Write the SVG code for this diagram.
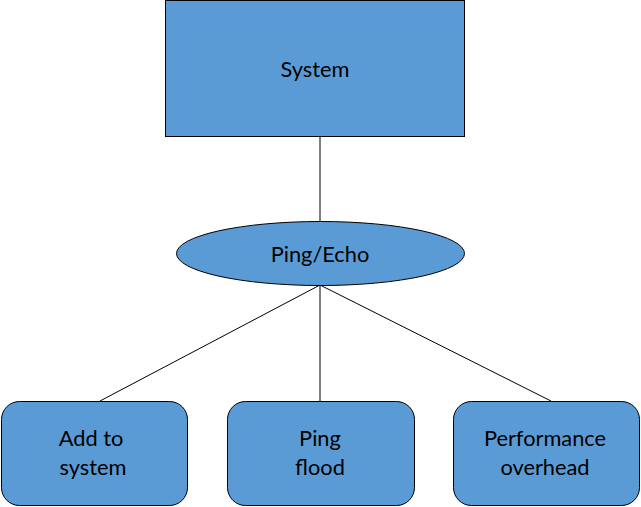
<svg xmlns="http://www.w3.org/2000/svg" width="641" height="507" viewBox="0 0 641 507">
<style>
.n{fill:#5B9BD5;stroke:#000;stroke-width:1}
.t{font-family:Lato,"Open Sans","Liberation Sans",sans-serif;font-size:21.8px;fill:#000;text-anchor:middle}
.c{stroke:#000;stroke-width:1;fill:none}
</style>
<rect width="641" height="507" fill="#fff"/>
<g id="connectors">
<line class="c" x1="320" y1="137" x2="320" y2="221"/>
<line class="c" x1="320" y1="285" x2="100" y2="401"/>
<line class="c" x1="320" y1="285" x2="320" y2="401"/>
<line class="c" x1="320" y1="285" x2="551" y2="401"/>
</g>
<g id="system">
<rect class="n" x="165.5" y="0.5" width="299" height="136"/>
<text class="t" x="315" y="77">System</text>
</g>
<g id="pingecho">
<ellipse class="n" cx="320.5" cy="253.5" rx="144" ry="32"/>
<text class="t" x="320" y="262">Ping/Echo</text>
</g>
<g id="add">
<rect class="n" x="1.5" y="401.5" width="186" height="104" rx="18"/>
<text class="t" x="91" y="446">Add to</text>
<text class="t" x="93" y="475">system</text>
</g>
<g id="flood">
<rect class="n" x="227.5" y="401.5" width="187" height="104" rx="18"/>
<text class="t" x="320" y="446">Ping</text>
<text class="t" x="320" y="475">flood</text>
</g>
<g id="perf">
<rect class="n" x="453.5" y="401.5" width="186" height="104" rx="18"/>
<text class="t" x="545" y="446">Performance</text>
<text class="t" x="545" y="475">overhead</text>
</g>
</svg>
